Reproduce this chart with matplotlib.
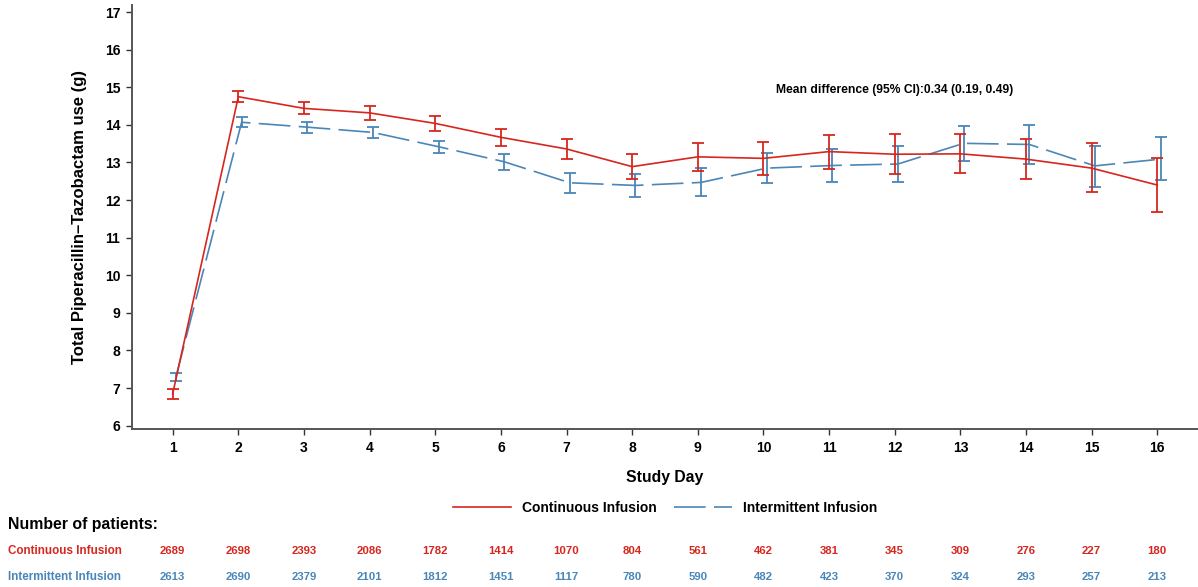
import matplotlib
matplotlib.use("Agg")
import matplotlib.pyplot as plt
from matplotlib.transforms import blended_transform_factory
from matplotlib.lines import Line2D

plt.rcParams['font.family'] = ['Liberation Sans', 'DejaVu Sans']
plt.rcParams['font.weight'] = 'bold'

days = list(range(1, 17))

cont_mean = [6.85, 14.75, 14.44, 14.32, 14.04, 13.67, 13.36, 12.89, 13.15, 13.11, 13.29, 13.22, 13.23, 13.09, 12.85, 12.40]
cont_lo   = [6.72, 14.61, 14.29, 14.13, 13.83, 13.44, 13.09, 12.55, 12.77, 12.68, 12.83, 12.69, 12.72, 12.56, 12.22, 11.67]
cont_hi   = [6.98, 14.91, 14.62, 14.51, 14.25, 13.90, 13.62, 13.22, 13.53, 13.54, 13.74, 13.75, 13.75, 13.63, 13.51, 13.12]

int_mean = [7.30, 14.07, 13.94, 13.80, 13.42, 13.02, 12.46, 12.39, 12.47, 12.85, 12.92, 12.96, 13.51, 13.48, 12.91, 13.09]
int_lo   = [7.18, 13.94, 13.79, 13.64, 13.25, 12.80, 12.20, 12.07, 12.10, 12.46, 12.49, 12.47, 13.05, 12.97, 12.36, 12.53]
int_hi   = [7.40, 14.20, 14.08, 13.95, 13.58, 13.23, 12.73, 12.70, 12.85, 13.25, 13.37, 13.43, 13.97, 13.99, 13.45, 13.67]

n_cont = [2689, 2698, 2393, 2086, 1782, 1414, 1070, 804, 561, 462, 381, 345, 309, 276, 227, 180]
n_int  = [2613, 2690, 2379, 2101, 1812, 1451, 1117, 780, 590, 482, 423, 370, 324, 293, 257, 213]

RED = '#d7261e'
BLUE = '#4a86b8'
dodge = 0.05

fig = plt.figure(figsize=(11.98, 5.87), dpi=100)
ax = fig.add_axes([132/1198, 1 - 429/587, 1 - 132/1198, (429 - 5)/587])

xc = [d for d in days]
xi = [d + dodge for d in days]

ax.errorbar(xc, cont_mean,
            yerr=[[m - l for m, l in zip(cont_mean, cont_lo)], [h - m for m, h in zip(cont_mean, cont_hi)]],
            color=RED, lw=1.2, elinewidth=1.3, capsize=4.5, capthick=1.3, zorder=3)
ax.errorbar(xi, int_mean,
            yerr=[[m - l for m, l in zip(int_mean, int_lo)], [h - m for m, h in zip(int_mean, int_hi)]],
            color=BLUE, lw=1.2, elinewidth=1.3, capsize=4.5, capthick=1.3, ls=(0, (19, 5)), zorder=2)

ax.set_xlim(0.38, 16.62)
ax.set_ylim(5.91, 17.19)
ax.set_xticks(days)
ax.set_yticks(range(6, 18))
for s in ['top', 'right']:
    ax.spines[s].set_visible(False)
for s in ['left', 'bottom']:
    ax.spines[s].set_color('#555555')
    ax.spines[s].set_linewidth(1.4)
ax.tick_params(axis='both', direction='out', length=4.5, width=1.0, color='#333333',
               labelsize=10, pad=4)
for lab in ax.get_xticklabels() + ax.get_yticklabels():
    lab.set_fontweight('bold')

ax.set_xlabel('Study Day', fontsize=11.3, fontweight='bold', labelpad=11)
ax.set_ylabel('Total Piperacillin\u2013Tazobactam use (g)', fontsize=12, fontweight='bold', labelpad=13)

ax.text(776/1198, 1 - 90/587, 'Mean difference (95% CI):0.34 (0.19, 0.49)', transform=fig.transFigure,
        fontsize=8.7, fontweight='bold', ha='left', va='center')

handles = [Line2D([], [], color=RED, lw=1.2),
           Line2D([], [], color=BLUE, lw=1.2, ls=(0, (19, 5)))]
fig.legend(handles, ['Continuous Infusion', 'Intermittent Infusion'], ncol=2,
           loc='center', bbox_to_anchor=(665/1198, 1 - 508/587), frameon=False,
           prop={'weight': 'bold', 'size': 10}, handlelength=4.2, handletextpad=0.8, columnspacing=1.2)

fig.text(8/1198, 1 - 525/587, 'Number of patients:', fontsize=11.4, fontweight='bold', ha='left', va='center')
fig.text(8/1198, 1 - 551/587, 'Continuous Infusion', fontsize=8.4, fontweight='bold', color=RED, ha='left', va='center')
fig.text(8/1198, 1 - 577/587, 'Intermittent Infusion', fontsize=8.4, fontweight='bold', color=BLUE, ha='left', va='center')

trans = blended_transform_factory(ax.transData, fig.transFigure)
for d, a, b in zip(days, n_cont, n_int):
    ax.text(d, 1 - 551/587, str(a), transform=trans, fontsize=8.2, fontweight='bold', color=RED,
            ha='center', va='center', clip_on=False)
    ax.text(d, 1 - 577/587, str(b), transform=trans, fontsize=8.2, fontweight='bold', color=BLUE,
            ha='center', va='center', clip_on=False)

fig.savefig('out.png', dpi=100)
